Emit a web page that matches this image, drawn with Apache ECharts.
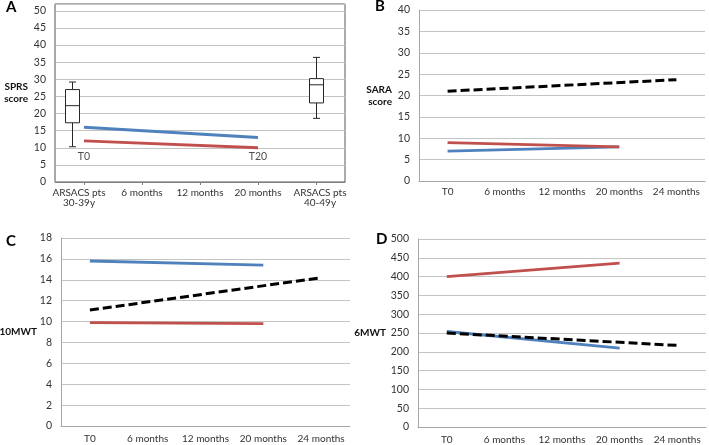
<!DOCTYPE html>
<html><head><meta charset="utf-8">
<script src="https://cdn.jsdelivr.net/npm/echarts@6/dist/echarts.min.js"></script>
<style>html,body{margin:0;padding:0;background:#fff}#c{width:709px;height:445px}</style>
</head><body><div id="c"></div>
<script>
// ---------- data ----------
const catsA = ['ARSACS pts\n30-39y', '6 months', '12 months', '20 months', 'ARSACS pts\n40-49y'];
const catsBCD = ['T0', '6 months', '12 months', '20 months', '24 months'];

// y-axis ranges [min, max of labels, step]
const yTicksA = [0, 50, 5];
const yTicksB = [0, 40, 5];
const yTicksC = [0, 18, 2];
const yTicksD = [0, 500, 50];

// Panel A (SPRS score)
const blueA = [16, null, null, 13, null];
const redA = [12, null, null, 10, null];
// [category index, min, Q1, median, Q3, max]
const boxA = [
  [0, 10.3, 17.3, 22.3, 27.0, 29.2],
  [4, 18.6, 23.1, 28.4, 30.2, 36.4]
];
const notesA = [[0, 7.5, 'T0'], [3, 7.5, 'T20']];

// Panel B (SARA score)
const blueB = [7, null, null, 8, null];
const redB = [9, null, null, 8, null];
const blackB = [21, null, null, null, 23.7];

// Panel C (10MWT)
const blueC = [15.8, null, null, 15.4, null];
const redC = [9.9, null, null, 9.8, null];
const blackC = [11.1, null, null, null, 14.2];

// Panel D (6MWT)
const blueD = [254, null, null, 210, null];
const redD = [400, null, null, 436, null];
const blackD = [250, null, null, null, 217];

// ---------- styles ----------
const FONT = 'Lato';
const BLUE = '#4F81BD', RED = '#C0504D', BLACK = '#000000';
const GRIDC = '#c4c4c4', AXISC = '#a6a6a6', TXT = '#333333';

const chart = echarts.init(document.getElementById('c'), null, {renderer: 'canvas'});

function xAxisCfg(idx, cats, margin, opts) {
  return Object.assign({
    type: 'category', gridIndex: idx, data: cats, boundaryGap: true,
    axisLine: {show: true, lineStyle: {color: AXISC, width: 1}},
    axisTick: {show: false},
    axisLabel: {interval: 0, margin: margin, color: TXT, fontFamily: FONT, fontSize: 10, lineHeight: 10},
    splitLine: {show: false}
  }, opts || {});
}
function yAxisCfg(idx, t, name, gap, maxOverride) {
  return {
    type: 'value', gridIndex: idx, min: t[0], max: maxOverride != null ? maxOverride : t[1], interval: t[2],
    name: name, nameLocation: 'middle', nameRotate: 0, nameGap: gap, nameMoveOverlap: false,
    nameTextStyle: {fontFamily: FONT, fontWeight: 'bold', fontSize: 10, color: '#111', lineHeight: 12, align: 'right'},
    axisLine: {show: true, lineStyle: {color: AXISC}},
    axisTick: {show: false},
    axisLabel: {margin: 9, color: TXT, fontFamily: FONT, fontSize: 10.5,
      formatter: v => (v <= t[1] && v % t[2] === 0) ? String(v) : ''},
    splitLine: {show: true, lineStyle: {color: GRIDC, width: 1}}
  };
}
function lineS(idx, data, color, dashed) {
  return {
    type: 'line', xAxisIndex: idx, yAxisIndex: idx, data: data, connectNulls: true,
    symbol: 'none', silent: true, animation: false,
    lineStyle: {color: color, width: dashed ? 3 : 2.8, type: dashed ? [9, 4] : 'solid', cap: 'butt'},
    z: dashed ? 4 : 3
  };
}

const boxShift = [-12, 0];
// label nudges for the two wrapped group labels in panel A (style only)
const labelPadA = [[0, 10, 0, 0], 0, 0, 0, [0, 0, 0, 8]];

const option = {
  animation: false,
  backgroundColor: '#ffffff',
  title: [
    {text: 'A', left: 6, top: 0, padding: 0, textStyle: {fontFamily: FONT, fontWeight: 'bold', fontSize: 15, color: '#000'}},
    {text: 'B', left: 375, top: -1, padding: 0, textStyle: {fontFamily: FONT, fontWeight: 'bold', fontSize: 15, color: '#000'}},
    {text: 'C', left: 6, top: 234, padding: 0, textStyle: {fontFamily: FONT, fontWeight: 'bold', fontSize: 15, color: '#000'}},
    {text: 'D', left: 376, top: 232, padding: 0, textStyle: {fontFamily: FONT, fontWeight: 'bold', fontSize: 15, color: '#000'}}
  ],
  grid: [
    {left: 55, top: 4, width: 290, height: 178, show: true, borderColor: '#595959', borderWidth: 1, backgroundColor: 'transparent', containLabel: false, outerBoundsMode: 'none'},
    {left: 419, top: 10, width: 286, height: 171, containLabel: false, outerBoundsMode: 'none'},
    {left: 61, top: 238, width: 289, height: 188, containLabel: false, outerBoundsMode: 'none'},
    {left: 418, top: 239, width: 288, height: 188, containLabel: false, outerBoundsMode: 'none'}
  ],
  xAxis: [
    xAxisCfg(0, catsA.map((c, i) => labelPadA[i] ? {value: c, textStyle: {padding: labelPadA[i]}} : c), 6, {
      axisLine: {show: true, lineStyle: {color: '#7f7f7f'}},
      axisTick: {show: true, alignWithLabel: true, length: 3, lineStyle: {color: '#7f7f7f'}}
    }),
    xAxisCfg(1, catsBCD, 6),
    xAxisCfg(2, catsBCD, 8),
    xAxisCfg(3, catsBCD, 8)
  ],
  yAxis: [
    yAxisCfg(0, yTicksA, 'SPRS\nscore', 27, 52),
    yAxisCfg(1, yTicksB, 'SARA\nscore', 27),
    yAxisCfg(2, yTicksC, '10MWT', 24),
    yAxisCfg(3, yTicksD, '6MWT', 32)
  ],
  series: [
    {
      type: 'custom', xAxisIndex: 0, yAxisIndex: 0, silent: true, z: 5,
      dimensions: ['cat', 'min', 'q1', 'med', 'q3', 'max'],
      encode: {x: 'cat', y: ['min', 'q1', 'med', 'q3', 'max']},
      data: boxA,
      renderItem: function (params, api) {
        const c = api.value(0);
        const pMin = api.coord([c, api.value(1)]);
        const pQ1 = api.coord([c, api.value(2)]);
        const pMed = api.coord([c, api.value(3)]);
        const pQ3 = api.coord([c, api.value(4)]);
        const pMax = api.coord([c, api.value(5)]);
        const cx = Math.round(pMin[0] + boxShift[params.dataIndex]) + 0.5;
        const hw = 7, cw = 3.5;
        const st = {stroke: '#262626', lineWidth: 1, fill: null};
        return {type: 'group', children: [
          {type: 'line', shape: {x1: cx, y1: pMax[1], x2: cx, y2: pQ3[1]}, style: st},
          {type: 'line', shape: {x1: cx, y1: pQ1[1], x2: cx, y2: pMin[1]}, style: st},
          {type: 'line', shape: {x1: cx - cw, y1: pMax[1], x2: cx + cw, y2: pMax[1]}, style: st},
          {type: 'line', shape: {x1: cx - cw, y1: pMin[1], x2: cx + cw, y2: pMin[1]}, style: st},
          {type: 'rect', shape: {x: cx - hw, y: pQ3[1], width: 2 * hw, height: pQ1[1] - pQ3[1]}, style: {stroke: '#262626', lineWidth: 1, fill: '#ffffff'}},
          {type: 'line', shape: {x1: cx - hw, y1: pMed[1], x2: cx + hw, y2: pMed[1]}, style: st}
        ]};
      }
    },
    lineS(0, blueA, BLUE, false),
    lineS(0, redA, RED, false),
    {
      type: 'scatter', xAxisIndex: 0, yAxisIndex: 0, silent: true, symbolSize: 0,
      data: notesA.map(n => ({value: [n[0], n[1]], name: n[2]})),
      label: {show: true, position: 'inside', formatter: p => p.name, color: '#222', fontFamily: FONT, fontSize: 10.5}
    },
    lineS(1, blueB, BLUE, false),
    lineS(1, redB, RED, false),
    lineS(1, blackB, BLACK, true),
    lineS(2, blueC, BLUE, false),
    lineS(2, redC, RED, false),
    lineS(2, blackC, BLACK, true),
    lineS(3, blueD, BLUE, false),
    lineS(3, redD, RED, false),
    lineS(3, blackD, BLACK, true)
  ]
};
chart.setOption(option);
</script>
</body></html>
